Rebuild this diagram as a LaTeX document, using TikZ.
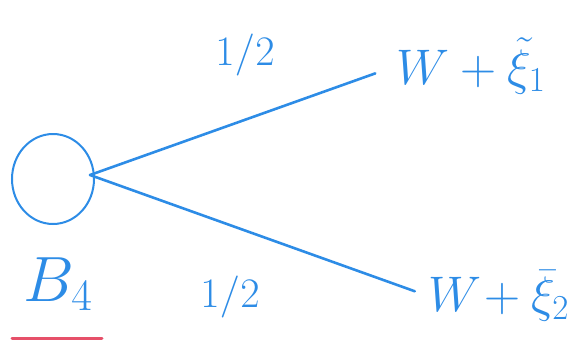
\RequirePackage{fix-cm}
\documentclass[tikz,border=0pt]{standalone}
\usepackage{amsmath}
\usetikzlibrary{shapes.geometric}
\begin{document}
\begin{tikzpicture}[x=1pt,y=-1pt,
  ink/.style={draw=inkblue,line width=2.6pt,line cap=round},
  lbl/.style={text=inkblue,inner sep=0pt,font=\fontsize{50}{56}\selectfont},
  prob/.style={text=inkblue,inner sep=0pt,font=\fontsize{42}{48}\selectfont}]
\definecolor{inkblue}{RGB}{45,140,230}
\definecolor{inkred}{RGB}{230,80,105}
\useasboundingbox (0,0) rectangle (570,356);
\node[ink,line width=2pt,ellipse,minimum width=82pt,minimum height=90pt,inner sep=0pt,draw] (root) at (53,179) {};
\coordinate (start) at (90,175);
\node[lbl,anchor=west] (top) at (396,66) {$W+\tilde{\xi}_1$};
\node[lbl,anchor=west] (bot) at (428,296) {$W\!+\bar{\xi}_2$};
\draw[ink,shorten >=22pt] (start) -- (top.west);
\draw[ink,shorten >=14pt] (start) -- (bot.west);
\node[prob] (p1) at (245,55) {$1/2$};
\node[prob] (p2) at (230,297) {$1/2$};
\node[lbl,font=\fontsize{64}{70}\selectfont] (b4) at (58,284) {$B_4$};
\coordinate (u1) at (12,338);
\coordinate (u2) at (102,338);
\draw[draw=inkred,line width=3pt,line cap=round] (u1) -- (u2);
\end{tikzpicture}
\end{document}
